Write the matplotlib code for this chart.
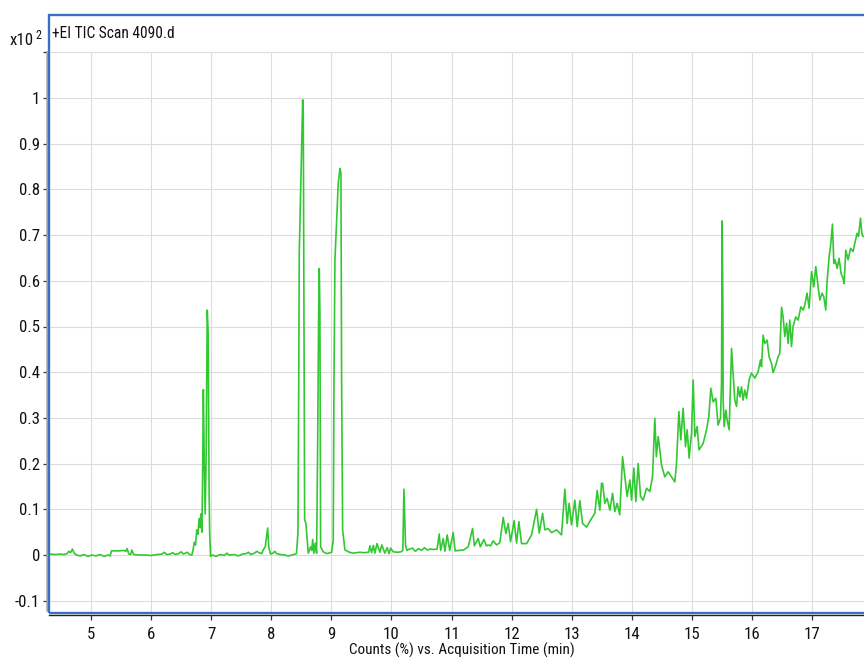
import matplotlib
matplotlib.use("Agg")
import matplotlib.pyplot as plt
from matplotlib import font_manager
from matplotlib.patches import Rectangle
from matplotlib.lines import Line2D

# pick a narrow Arial-like face if one is installed, else Liberation Sans at a smaller size
FONT_CHOICES = [('Liberation Sans Narrow', 11.2), ('Roboto Condensed', 11.2),
                ('Open Sans Condensed', 11.2), ('Liberation Sans', 9.8)]
font_name, font_size = 'Liberation Sans', 9.8
for name, size in FONT_CHOICES:
    try:
        path = font_manager.findfont(font_manager.FontProperties(family=name),
                                     fallback_to_default=False)
        if path:
            font_name, font_size = name, size
            break
    except Exception:
        continue
plt.rcParams['font.family'] = [font_name, 'Liberation Sans', 'DejaVu Sans']

title_text = "+EI TIC Scan 4090.d"
x_label = "Counts (%) vs. Acquisition Time (min)"
x_ticks = [5, 6, 7, 8, 9, 10, 11, 12, 13, 14, 15, 16, 17]
y_ticks = [-0.1, 0, 0.1, 0.2, 0.3, 0.4, 0.5, 0.6, 0.7, 0.8, 0.9, 1.0, 1.1]
y_tick_labels = ['-0.1', '0', '0.1', '0.2', '0.3', '0.4', '0.5', '0.6', '0.7', '0.8', '0.9', '1', '']

# acquisition time (min)
time_min = [
    4.33, 4.40, 4.48, 4.55, 4.60, 4.63, 4.66, 4.69, 4.72, 4.76, 4.82, 4.88, 4.95, 5.02, 5.08,
    5.15, 5.22, 5.28, 5.32, 5.34, 5.45, 5.55, 5.58, 5.60, 5.63, 5.66, 5.68, 5.71, 5.80, 5.90,
    6.00, 6.10, 6.18, 6.22, 6.26, 6.32, 6.36, 6.40, 6.46, 6.50, 6.54, 6.60, 6.64, 6.68,
    6.70, 6.72, 6.74, 6.76, 6.78, 6.80, 6.82, 6.83, 6.845, 6.855, 6.87, 6.885, 6.90, 6.915,
    6.935, 6.95, 6.965, 6.975, 6.99, 7.02, 7.08, 7.15, 7.22, 7.26, 7.30, 7.38, 7.45, 7.52,
    7.58, 7.62, 7.66, 7.72, 7.76, 7.80, 7.84, 7.87, 7.90, 7.94, 7.96, 7.99, 8.03, 8.06, 8.09,
    8.15, 8.22, 8.28, 8.35, 8.42, 8.445, 8.455, 8.466, 8.489, 8.506, 8.523, 8.533, 8.544,
    8.556, 8.577, 8.616, 8.656, 8.675, 8.689, 8.71, 8.732, 8.755, 8.772, 8.789, 8.799, 8.81,
    8.822, 8.865, 8.922, 9.005, 9.032, 9.043, 9.06, 9.088, 9.115, 9.143, 9.16, 9.171, 9.188,
    9.226, 9.30, 9.36, 9.42, 9.475, 9.55, 9.62, 9.642, 9.67, 9.70, 9.725, 9.76, 9.808, 9.84,
    9.89, 9.93, 9.96, 9.987, 10.03, 10.10, 10.16, 10.19, 10.208, 10.235, 10.26, 10.30, 10.35,
    10.40, 10.45, 10.50, 10.55, 10.60, 10.65, 10.70, 10.76, 10.795, 10.82, 10.862, 10.89,
    10.928, 10.97, 11.028, 11.06, 11.12, 11.20, 11.278, 11.351, 11.38, 11.444, 11.48, 11.539,
    11.58, 11.611, 11.65, 11.694, 11.75, 11.805, 11.86, 11.905, 11.943, 11.983, 12.043,
    12.083, 12.121, 12.166, 12.25, 12.333, 12.416, 12.46, 12.516, 12.554, 12.609, 12.665,
    12.748, 12.831, 12.887, 12.925, 12.958, 12.998, 13.053, 13.092, 13.136, 13.181, 13.248,
    13.331, 13.386, 13.424, 13.469, 13.497, 13.514, 13.552, 13.59, 13.636, 13.68, 13.719,
    13.757, 13.80, 13.847, 13.885, 13.923, 13.968, 13.997, 14.035, 14.068, 14.107, 14.146,
    14.19, 14.246, 14.30, 14.346, 14.384, 14.41, 14.44, 14.467, 14.495, 14.55, 14.605,
    14.662, 14.717, 14.745, 14.784, 14.817, 14.855, 14.895, 14.922, 14.955, 14.995, 15.022,
    15.05, 15.088, 15.12, 15.188, 15.245, 15.283, 15.316, 15.354, 15.399, 15.437, 15.477,
    15.494, 15.505, 15.516, 15.521, 15.538, 15.566, 15.588, 15.621, 15.661, 15.687, 15.715,
    15.744, 15.77, 15.799, 15.827, 15.853, 15.882, 15.91, 15.953, 15.993, 16.048, 16.103,
    16.143, 16.16, 16.186, 16.215, 16.253, 16.286, 16.326, 16.353, 16.398, 16.436, 16.464,
    16.493, 16.519, 16.547, 16.576, 16.602, 16.63, 16.659, 16.685, 16.73, 16.769, 16.814,
    16.852, 16.88, 16.918, 16.952, 16.992, 17.03, 17.063, 17.102, 17.13, 17.168, 17.196,
    17.229, 17.251, 17.285, 17.308, 17.341, 17.363, 17.384, 17.418, 17.451, 17.484, 17.518,
    17.534, 17.562, 17.601, 17.641, 17.684, 17.712, 17.751, 17.774, 17.807, 17.829, 17.85,
]

# counts (x10^2 %)
counts = [
    0.002, 0.001, 0.002, 0.001, 0.003, 0.008, 0.005, 0.013, 0.004, 0.000, -0.002, 0.001, -0.003, 0.000, -0.002,
    0.001, -0.003, 0.000, -0.002, 0.009, 0.009, 0.010, 0.008, 0.014, 0.002, 0.001, 0.011, 0.001, 0.000, 0.000,
    -0.001, 0.001, 0.002, 0.006, 0.001, 0.002, 0.005, 0.001, 0.003, 0.007, 0.002, 0.006, 0.001, 0.000,
    0.012, 0.028, 0.022, 0.055, 0.045, 0.080, 0.060, 0.090, 0.050, 0.140, 0.362, 0.200, 0.090, 0.200,
    0.536, 0.486, 0.150, 0.050, -0.003, 0.000, -0.003, 0.001, -0.001, 0.004, 0.000, 0.001, -0.002, 0.002,
    0.003, 0.006, 0.001, 0.004, 0.008, 0.005, 0.003, 0.012, 0.018, 0.059, 0.015, 0.002, 0.004, 0.008, 0.003,
    0.001, 0.000, -0.002, 0.000, 0.003, 0.050, 0.310, 0.660, 0.799, 0.908, 0.996, 0.966, 0.529,
    0.077, 0.069, 0.004, 0.018, 0.010, 0.034, 0.004, 0.026, 0.004, 0.237, 0.529, 0.627, 0.529,
    0.018, 0.007, 0.003, 0.006, 0.033, 0.361, 0.646, 0.733, 0.813, 0.846, 0.835, 0.383, 0.055,
    0.011, 0.006, 0.004, 0.005, 0.006, 0.005, 0.006, 0.020, 0.005, 0.021, 0.004, 0.025, 0.006, 0.022,
    0.004, 0.016, 0.003, 0.015, 0.007, 0.006, 0.007, 0.010, 0.144, 0.020, 0.010, 0.013, 0.015,
    0.008, 0.014, 0.010, 0.016, 0.011, 0.013, 0.012, 0.013, 0.046, 0.010, 0.036, 0.008,
    0.044, 0.010, 0.049, 0.009, 0.010, 0.011, 0.018, 0.058, 0.020, 0.036, 0.018, 0.034,
    0.020, 0.022, 0.020, 0.031, 0.022, 0.027, 0.082, 0.047, 0.069, 0.029, 0.075,
    0.026, 0.073, 0.025, 0.025, 0.044, 0.100, 0.048, 0.091, 0.055, 0.058, 0.049,
    0.055, 0.044, 0.144, 0.069, 0.113, 0.066, 0.120, 0.062, 0.119, 0.069, 0.061,
    0.080, 0.091, 0.141, 0.098, 0.157, 0.157, 0.113, 0.124, 0.098, 0.135, 0.095,
    0.113, 0.088, 0.215, 0.171, 0.128, 0.164, 0.120, 0.190, 0.117, 0.200, 0.128,
    0.120, 0.146, 0.139, 0.171, 0.299, 0.215, 0.259, 0.230, 0.197, 0.171, 0.182,
    0.171, 0.160, 0.200, 0.314, 0.252, 0.321, 0.237, 0.274, 0.212, 0.266, 0.383,
    0.259, 0.281, 0.230, 0.244, 0.274, 0.303, 0.365, 0.335, 0.343, 0.284, 0.300,
    0.376, 0.731, 0.558, 0.339, 0.281, 0.317, 0.295, 0.274, 0.452, 0.398, 0.339,
    0.325, 0.368, 0.346, 0.368, 0.339, 0.361, 0.343, 0.383, 0.398, 0.387, 0.401,
    0.427, 0.412, 0.481, 0.463, 0.470, 0.434, 0.419, 0.399, 0.416, 0.434, 0.441,
    0.542, 0.521, 0.478, 0.507, 0.463, 0.514, 0.456, 0.500, 0.521, 0.514, 0.543,
    0.536, 0.547, 0.573, 0.540, 0.620, 0.587, 0.631, 0.587, 0.558, 0.573, 0.565,
    0.536, 0.598, 0.653, 0.675, 0.724, 0.638, 0.646, 0.627, 0.649, 0.616, 0.605,
    0.594, 0.667, 0.646, 0.671, 0.664, 0.682, 0.704, 0.697, 0.737, 0.704, 0.697,
]

W, H = 864, 659
fig = plt.figure(figsize=(W / 100, H / 100), dpi=100)

def fx(px):
    return px / W

def fy(py):
    return 1 - py / H

ax_l, ax_r, ax_t, ax_b = 49, 864, 52, 612
ax = fig.add_axes([fx(ax_l), fy(ax_b), fx(ax_r) - fx(ax_l), fy(ax_t) - fy(ax_b)])

px_per_min = (812 - 91) / 12.0
x0 = 5 - (91 - ax_l) / px_per_min
x1 = 17 + (ax_r - 812) / px_per_min
ax.set_xlim(x0, x1)
px_per_unit = 457.0
ax.set_ylim((555 - ax_b) / px_per_unit, (555 - ax_t) / px_per_unit)

ax.plot(time_min, counts, color='#33c833', lw=1.2, zorder=3)

ax.set_xticks(x_ticks)
ax.set_xticklabels([str(v) for v in x_ticks])
ax.set_yticks(y_ticks)
ax.set_yticklabels(y_tick_labels)
ax.grid(True, color='#dcdcdc', lw=0.8, zorder=0)
ax.set_axisbelow(True)

for s in ['top', 'right', 'left']:
    ax.spines[s].set_visible(False)
ax.spines['bottom'].set_position(('outward', 2.2))
ax.spines['bottom'].set_color('#222222')
ax.spines['bottom'].set_linewidth(1.0)

ax.tick_params(axis='y', direction='out', length=4.3, width=0.9, color='#333333',
               pad=2.2, labelsize=font_size + 0.9, labelcolor='#111111')
ax.tick_params(axis='x', direction='out', length=3.6, width=0.9, color='#333333',
               pad=5.0, labelsize=font_size + 0.9, labelcolor='#111111')

# grey left axis bar
fig.add_artist(Line2D([fx(47), fx(47)], [fy(52), fy(610)], color='#a8a8a8', lw=1.8,
                      transform=fig.transFigure))
# blue frame
fig.add_artist(Rectangle((fx(49), fy(612.7)), fx(875) - fx(49), fy(14.5) - fy(612.7),
                         transform=fig.transFigure, fill=False, edgecolor='#3a6fc4',
                         lw=1.7, zorder=10))

fig.text(fx(52), fy(38), title_text, fontsize=font_size, color='#111111', ha='left', va='baseline')
fig.text(fx(10), fy(45), "x10", fontsize=font_size + 0.9, color='#111111', ha='left', va='baseline')
fig.text(fx(35), fy(39), "2", fontsize=font_size - 2.5, color='#111111', ha='left', va='baseline')
fig.text(fx(461.5), fy(650), x_label, fontsize=font_size - 0.3, color='#111111', ha='center', va='center')

fig.savefig("out.png", dpi=100)
